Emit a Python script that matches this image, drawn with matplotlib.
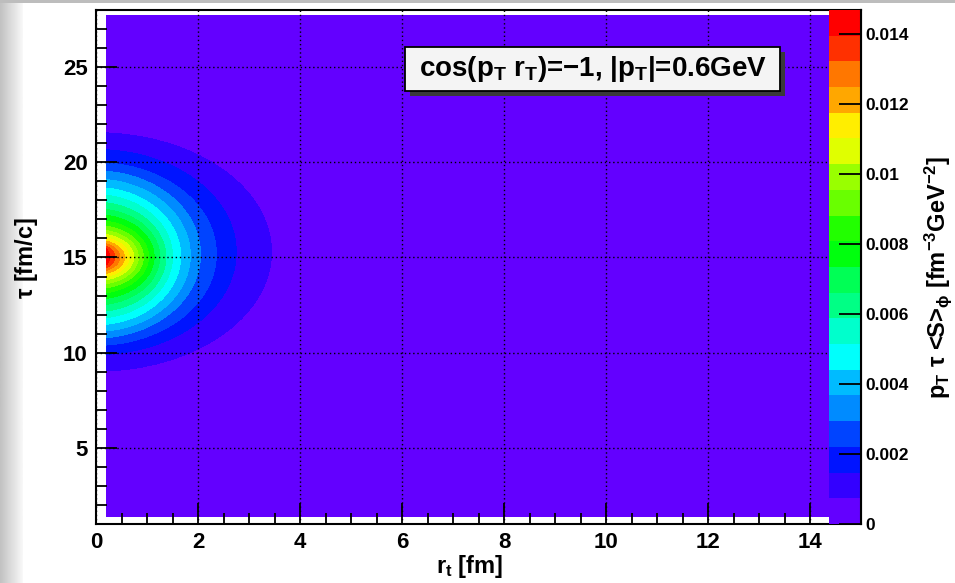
import colorsys
import numpy as np
import matplotlib
matplotlib.use("Agg")
import matplotlib.pyplot as plt
from matplotlib.patches import Rectangle
from matplotlib.ticker import MultipleLocator

plt.rcParams['font.family'] = ['Liberation Sans', 'DejaVu Sans']
plt.rcParams['font.weight'] = 'bold'
plt.rcParams['mathtext.fontset'] = 'custom'
plt.rcParams['mathtext.rm'] = 'Liberation Sans:bold'
plt.rcParams['mathtext.it'] = 'Liberation Sans:bold'
plt.rcParams['mathtext.bf'] = 'Liberation Sans:bold'
plt.rcParams['mathtext.sf'] = 'Liberation Sans:bold'

z_max = 0.0147
n_levels = 20
r_range = (0.2, 14.4)
tau_range = (1.4, 27.7)

# contour k = 1..19 (value k*z_max/20):
# how far it reaches in r_t at tau ~ 15, and where it meets the left edge (r_t = 0.2)
tip_r = [3.44, 2.75, 2.36, 2.05, 1.85, 1.66, 1.50, 1.37, 1.25, 1.14,
         1.03, 0.93, 0.83, 0.74, 0.65, 0.56, 0.47, 0.37, 0.27]
edge_top = [21.54, 20.66, 19.97, 19.53, 19.09, 18.65, 18.27, 17.87, 17.52, 17.22,
            16.91, 16.64, 16.42, 16.21, 16.03, 15.86, 15.72, 15.59, 15.47]
edge_bot = [9.04, 9.91, 10.40, 10.79, 11.14, 11.49, 11.84, 12.19, 12.54, 12.85,
            13.15, 13.41, 13.62, 13.83, 14.00, 14.16, 14.32, 14.46, 14.60]

x_ticks = [0, 2, 4, 6, 8, 10, 12, 14]
y_ticks = [5, 10, 15, 20, 25]
cbar_ticks = [0, 0.002, 0.004, 0.006, 0.008, 0.01, 0.012, 0.014]
cbar_labels = ['0', '0.002', '0.004', '0.006', '0.008', '0.01', '0.012', '0.014']

# ROOT "pretty palette": 50 colours, hue 280 -> 0
palette = []
for i in range(50):
    hue = 280 - (i + 1) * 280 / 50
    palette.append(colorsys.hls_to_rgb(hue / 360, 0.5, 1.0))
band_colors = [palette[int((k + 0.99) * 50 / n_levels)] for k in range(n_levels)]

# rebuild the field from the contour ellipses
r = np.concatenate([np.linspace(r_range[0], 4.0, 400), np.linspace(4.05, r_range[1], 60)])
tau = np.linspace(tau_range[0], tau_range[1], 900)
R, T = np.meshgrid(r, tau)
a = np.array(tip_r)[:, None, None]
c = ((np.array(edge_top) + np.array(edge_bot)) / 2)[:, None, None]
half = ((np.array(edge_top) - np.array(edge_bot)) / 2)[:, None, None]
b = half / np.sqrt(1 - (r_range[0] / a) ** 2)
q = (R / a) ** 2 + ((T - c) / b) ** 2
nk = q.shape[0]
n = (q <= 1).sum(axis=0)
step = z_max / n_levels
qn = np.take_along_axis(q, np.clip(n - 1, 0, nk - 1)[None], 0)[0]
qn1 = np.take_along_axis(q, np.clip(n, 0, nk - 1)[None], 0)[0]
t = np.clip((1 - qn) / np.maximum(qn1 - qn, 1e-9), 0, 0.999)
Z = (n + t) * step
Z = np.where(n == 0, step * 0.999 / np.maximum(qn, 1.0), Z)
Z = np.where(n == nk, nk * step + step * np.clip(1 - qn, 0, 0.999), Z)
levels = np.arange(n_levels + 1) * step
levels[-1] *= 1.0001

W, H = 955, 583
fig = plt.figure(figsize=(W / 100, H / 100), dpi=100)

# grey screenshot edge on the left
edge = fig.add_axes([0, 0, 22 / W, 1])
edge.imshow(np.linspace(0.76, 0.97, 22)[None, :], cmap='gray', vmin=0, vmax=1,
            aspect='auto', extent=(0, 1, 0, 1))
edge.set_axis_off()
fig.add_artist(Rectangle((0, 1 - 3 / H), 1, 3 / H, transform=fig.transFigure,
                         color='#bdbdbd', lw=0))

ax = fig.add_axes([96 / W, 1 - 524 / H, (861 - 96) / W, (524 - 10) / H])
cs = ax.contourf(r, tau, Z, levels=levels, colors=band_colors, antialiased=False)
ax.set_xlim(0, 15)
ax.set_ylim(1, 28)
ax.set_xticks(x_ticks)
ax.set_yticks(y_ticks)
ax.xaxis.set_minor_locator(MultipleLocator(0.5))
ax.yaxis.set_minor_locator(MultipleLocator(1))
ax.set_axisbelow(False)
ax.grid(True, which='major', color='k', linestyle=(0, (1, 2)), linewidth=1.0)
ax.tick_params(which='major', direction='in', length=15, width=1.3, labelsize=16, pad=6)
ax.tick_params(which='minor', direction='in', length=8, width=1.3)
for s in ax.spines.values():
    s.set_linewidth(1.5)

fig.text(470 / W, 1 - 567 / H, r'$r_{t}$ [fm]', ha='center', va='center', fontsize=17)
fig.text(26 / W, 1 - 258 / H, r'$\tau$ [fm/c]', ha='center', va='center',
         rotation=90, fontsize=17)

# palette on the right side of the frame
cax = fig.add_axes([829 / W, 1 - 524 / H, 32 / W, (524 - 10) / H])
cbar = fig.colorbar(cs, cax=cax, ticks=cbar_ticks)
cbar.outline.set_visible(False)
cax.set_yticklabels(cbar_labels)
cax.set_ylim(0, z_max)
cax.tick_params(direction='in', length=16, width=1.3, labelsize=12.5, pad=3)
cax.plot([1, 1], [0, 1], transform=cax.transAxes, color='k', lw=1.5, clip_on=False)
fig.text(938 / W, 1 - 277 / H, r'$p_{T}\ \tau$ <S>$_{\phi}$ [fm$^{-3}$GeV$^{-2}$]',
         ha='center', va='center', rotation=90, fontsize=17)

# text box with shadow
bx0, by0, bx1, by1 = 405, 47, 780, 91
fig.add_artist(Rectangle(((bx0 + 5) / W, 1 - (by1 + 5) / H), (bx1 - bx0) / W, (by1 - by0) / H,
                         transform=fig.transFigure, color='#3a3a3a', lw=0))
fig.add_artist(Rectangle((bx0 / W, 1 - by1 / H), (bx1 - bx0) / W, (by1 - by0) / H,
                         transform=fig.transFigure, facecolor='#f4f4f4',
                         edgecolor='k', lw=1.3))
fig.text((bx0 + bx1) / 2 / W, 1 - 69 / H,
         r'cos($p_{T}\ r_{T}$)=$-$1, |$p_{T}$|=0.6GeV',
         ha='center', va='center', fontsize=20)

fig.savefig('out.png', dpi=100)
